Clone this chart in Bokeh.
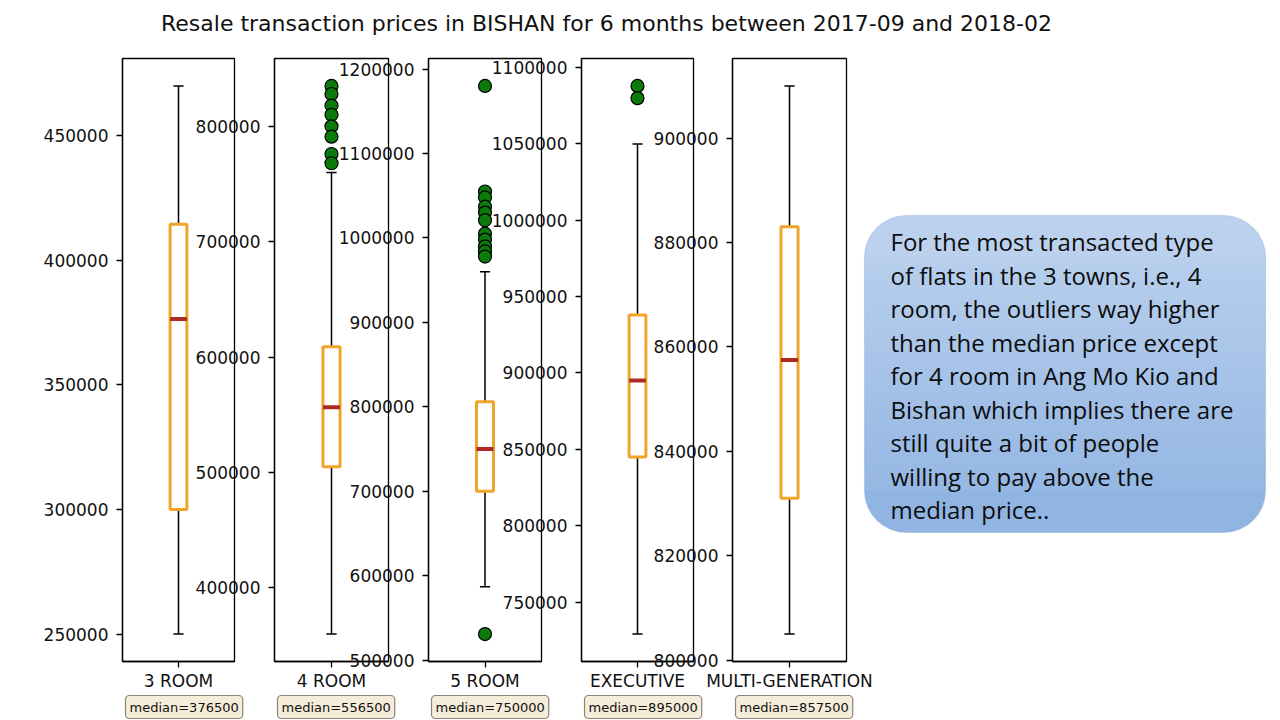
from bokeh.plotting import figure
from bokeh.layouts import row, column
from bokeh.models import (Range1d, SingleIntervalTicker, FixedTicker, BasicTickFormatter,
                          Title, BoxAnnotation, ColumnDataSource)
from bokeh.transform import dodge
from bokeh.core.properties import value
from bokeh.embed import file_html
from bokeh.resources import INLINE

# ---------------- data ----------------
title_text = "Resale transaction prices in BISHAN for 6 months between 2017-09 and 2018-02"
room_types = ["3 ROOM", "4 ROOM", "5 ROOM", "EXECUTIVE", "MULTI-GENERATION"]
whisker_low = [250000, 360000, 587000, 729000, 805000]
q1_values = [300000, 505000, 700000, 845000, 831000]
median_values = [376500, 556500, 750000, 895000, 857500]
q3_values = [414500, 609000, 806000, 938000, 883000]
whisker_high = [470000, 760000, 960000, 1050000, 910000]
outliers_3room = []
outliers_4room = [835000, 828000, 818000, 810000, 800000, 791000, 776000, 768000]
outliers_5room = [1180000, 1055000, 1048000, 1037000, 1030000, 1021000, 1005000,
                  998000, 990000, 984000, 978000, 531000]
outliers_exec = [1088000, 1080000]
outliers_multi = []
outliers = [outliers_3room, outliers_4room, outliers_5room, outliers_exec, outliers_multi]
tick_steps = [50000, 100000, 100000, 50000, 20000]

note_lines = [
    "For the most transacted type",
    "of flats in the 3 towns, i.e., 4",
    "room, the outliers way higher",
    "than the median price except",
    "for 4 room in Ang Mo Kio and",
    "Bishan which implies there are",
    "still quite a bit of people",
    "willing to pay above the",
    "median price..",
]

# ---------------- style ----------------
FONT = "DejaVu Sans"
ORANGE = "#f0a52a"
MEDIAN_C = "#b02a24"
# (min_border_left, frame_width, min_border_right, margin_left)
geom = [(122, 112, 20, 0), (84, 114, 20, -64), (91, 115, 20, -73), (92, 113, 20, -73),
        (82, 114, 40, -63)]

figs = []
for i, name in enumerate(room_types):
    outs = outliers[i]
    lo_all = min([whisker_low[i]] + outs)
    hi_all = max([whisker_high[i]] + outs)
    pad = 0.05 * (hi_all - lo_all)
    bl, fw, br, ml = geom[i]
    p = figure(width=bl + fw + br, height=675,
               x_range=Range1d(0.5, 1.5), y_range=Range1d(lo_all - pad, hi_all + pad),
               output_backend="svg", toolbar_location=None,
               min_border_left=bl, min_border_right=br, min_border_top=13, min_border_bottom=59,
               margin=(0, 0, 0, ml), border_fill_color=None, background_fill_color="white",
               outline_line_color="black", outline_line_width=1.3)
    p.grid.visible = False

    p.xaxis.ticker = FixedTicker(ticks=[1])
    p.xaxis.major_label_overrides = {1: name}
    p.yaxis.ticker = SingleIntervalTicker(interval=tick_steps[i], num_minor_ticks=0)
    p.yaxis.formatter = BasicTickFormatter(use_scientific=False)
    for ax in (p.xaxis, p.yaxis):
        ax.axis_line_color = "black"
        ax.axis_line_width = 1.3
        ax.major_tick_line_color = "black"
        ax.major_tick_line_width = 1.3
        ax.major_tick_in = 0
        ax.major_tick_out = 6
        ax.minor_tick_line_color = None
        ax.major_label_text_font = FONT
        ax.major_label_text_font_size = "17px"
        ax.major_label_text_color = "#111111"
    p.yaxis.major_label_standoff = 8
    p.xaxis.major_label_standoff = 3

    src = ColumnDataSource(dict(x=[1], lo=[whisker_low[i]], q1=[q1_values[i]],
                                med=[median_values[i]], q3=[q3_values[i]], hi=[whisker_high[i]]))
    p.segment(x0="x", y0="q3", x1="x", y1="hi", source=src, line_color="black", line_width=1.5)
    p.segment(x0="x", y0="lo", x1="x", y1="q1", source=src, line_color="black", line_width=1.5)
    p.segment(x0=dodge("x", -0.045), x1=dodge("x", 0.045), y0="hi", y1="hi", source=src,
              line_color="black", line_width=1.5)
    p.segment(x0=dodge("x", -0.045), x1=dodge("x", 0.045), y0="lo", y1="lo", source=src,
              line_color="black", line_width=1.5)
    p.vbar(x="x", width=0.15, bottom="q1", top="q3", source=src,
           fill_color="white", line_color=ORANGE, line_width=3)
    p.segment(x0=dodge("x", -0.075), x1=dodge("x", 0.075), y0="med", y1="med", source=src,
              line_color=MEDIAN_C, line_width=4)
    if outs:
        p.scatter(x=[1] * len(outs), y=outs, size=13, fill_color="#0b7a0b",
                  line_color="black", line_width=1.2)

    med_title = Title(text=f"median={median_values[i]}", align="left", offset=3, standoff=0,
                      text_font=FONT, text_font_size="13px", text_font_style="normal",
                      text_color="#111111",
                      background_fill_color="#f6ecda", background_fill_alpha=1.0,
                      border_line_color="#8c8477", border_line_width=1.2,
                      border_radius=4, padding=4)
    p.add_layout(med_title, "below")
    figs.append(p)

# ---------------- note box ----------------
tp = figure(width=432, height=675, x_range=Range1d(848, 1280), y_range=Range1d(661, 58),
            min_border_left=0, min_border_right=0, min_border_top=13, min_border_bottom=59,
            margin=(0, 0, 0, -38), x_axis_type=None, y_axis_type=None,
            outline_line_color=None, border_fill_color=None, background_fill_color=None,
            output_backend="svg", toolbar_location=None)
tp.grid.visible = False

BOX_L, BOX_R, BOX_T, BOX_B, RAD = 864, 1265, 215, 532, 42
TOP_RGB, BOT_RGB = (190, 211, 238), (142, 179, 226)


def shade(t):
    return "#%02x%02x%02x" % tuple(round(a + (b - a) * t) for a, b in zip(TOP_RGB, BOT_RGB))


# gradient: rounded top band, thin middle bands, rounded bottom band
n_mid = 22
mid_top, mid_bot = BOX_T + RAD, BOX_B - RAD
step = (mid_bot - mid_top) / n_mid
span = BOX_B - BOX_T
tp.add_layout(BoxAnnotation(left=BOX_L, right=BOX_R, top=BOX_T, bottom=mid_top + 1,
                            fill_color=shade(RAD / 2 / span), fill_alpha=1.0, line_color=None,
                            border_radius=dict(top_left=RAD, top_right=RAD, bottom_right=0, bottom_left=0),
                            level="underlay"))
for k in range(n_mid):
    t0 = mid_top + k * step
    tp.add_layout(BoxAnnotation(left=BOX_L, right=BOX_R, top=t0, bottom=t0 + step + 1,
                                fill_color=shade((t0 + step / 2 - BOX_T) / span), fill_alpha=1.0,
                                line_color=None, level="underlay"))
tp.add_layout(BoxAnnotation(left=BOX_L, right=BOX_R, top=mid_bot, bottom=BOX_B,
                            fill_color=shade(1 - RAD / 2 / span), fill_alpha=1.0, line_color=None,
                            border_radius=dict(top_left=0, top_right=0, bottom_right=RAD, bottom_left=RAD),
                            level="underlay"))
tp.add_layout(BoxAnnotation(left=BOX_L, right=BOX_R, top=BOX_T, bottom=BOX_B, fill_color=None,
                            line_color="#7b9ccb", line_width=1.2, border_radius=RAD,
                            level="underlay"))
tp.text(x=[890] * len(note_lines), y=[241 + 33.5 * k for k in range(len(note_lines))],
        text=note_lines, text_font=value("Open Sans"), text_font_size="24px",
        text_baseline="middle", text_align="left", text_color="#0d0d0d")

# ---------------- title ----------------
tf = figure(width=1280, height=45, x_range=Range1d(0, 1280), y_range=Range1d(45, 0),
            min_border=0, x_axis_type=None, y_axis_type=None, outline_line_color=None,
            border_fill_color=None, background_fill_color=None,
            output_backend="svg", toolbar_location=None)
tf.grid.visible = False
tf.text(x=[606], y=[23], text=[title_text], text_font=value(FONT), text_font_size="22px",
        text_align="center", text_baseline="middle", text_color="#111111")

layout = column(tf, row(*figs, tp))
open("out.html", "w").write(file_html(layout, INLINE))
